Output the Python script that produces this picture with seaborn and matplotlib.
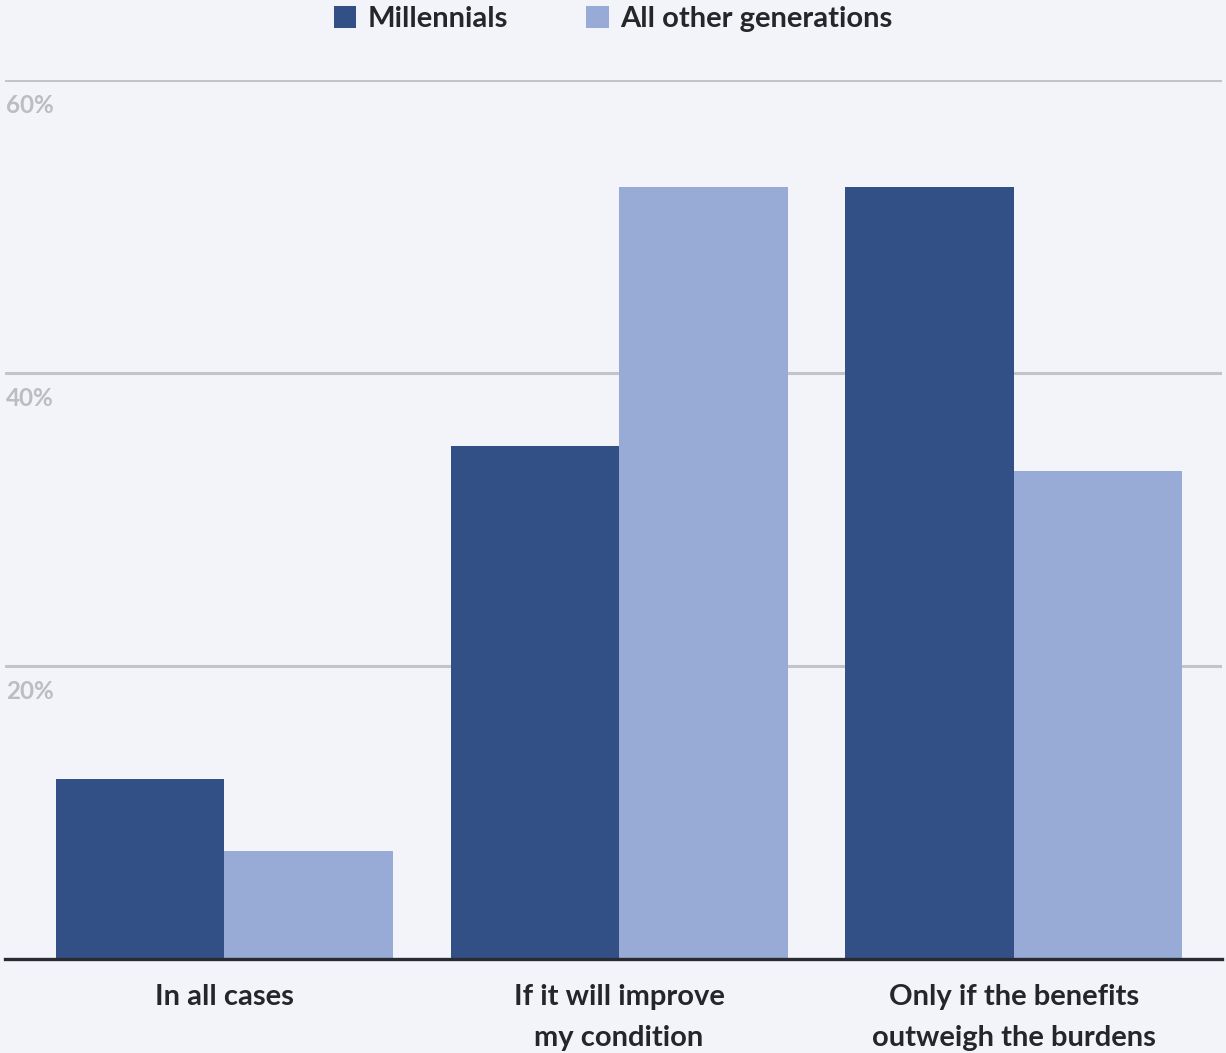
import matplotlib
matplotlib.use("Agg")
import matplotlib.pyplot as plt
import matplotlib.transforms as mtransforms
import seaborn as sns
import pandas as pd

categories = ["In all cases", "If it will improve\nmy condition", "Only if the benefits\noutweigh the burdens"]
millennials = [12.3, 35.0, 52.7]
all_others = [7.4, 52.7, 33.3]
series_names = ["Millennials", "All other generations"]
y_ticks = [20, 40, 60]
y_tick_labels = ["20%", "40%", "60%"]

BG = "#f3f4f9"
DARK = "#335086"
LIGHT = "#97abd6"
GRID = "#c3c4ca"
TEXT = "#25252b"

df = pd.DataFrame({
    "category": categories * 2,
    "share": millennials + all_others,
    "group": [series_names[0]] * len(categories) + [series_names[1]] * len(categories),
})

sns.set_theme(style="white")
plt.rcParams["font.family"] = ["Lato", "DejaVu Sans"]
plt.rcParams["font.weight"] = "bold"

fig = plt.figure(figsize=(12.26, 10.53), dpi=100, facecolor=BG)
W, H = 1226, 1053
ax = fig.add_axes([5 / W, (H - 959) / H, (1222 - 5) / W, (959 - 80) / H])
ax.set_facecolor(BG)

sns.barplot(data=df, x="category", y="share", hue="group", order=categories,
            hue_order=series_names, palette=[DARK, LIGHT], width=0.854,
            saturation=1, linewidth=0, ax=ax, zorder=3)

ax.set_ylim(0, 60)
ax.set_xlim(-0.556, 2.528)
ax.set_xlabel("")
ax.set_ylabel("")

# horizontal gridlines with labels tucked underneath on the left
ax.set_yticks(y_ticks)
ax.set_yticklabels([])
ax.tick_params(axis="y", length=0)
ax.yaxis.grid(True, color=GRID, linewidth=2.2, zorder=0)
ax.set_axisbelow(True)
for v, lab in zip(y_ticks, y_tick_labels):
    tr = mtransforms.blended_transform_factory(ax.transAxes, ax.transData)
    ax.text(0.001, v, lab, transform=tr + mtransforms.ScaledTranslation(0, -10 / 72, fig.dpi_scale_trans),
            ha="left", va="top", fontsize=17.5, color="#bcbdc3", fontweight="bold")

for s in ["top", "right", "left"]:
    ax.spines[s].set_visible(False)
ax.spines["bottom"].set_color("#2a2a33")
ax.spines["bottom"].set_linewidth(2.4)
ax.spines["bottom"].set_zorder(5)

ax.tick_params(axis="x", length=0, pad=18, labelsize=21, labelcolor=TEXT)
for t in ax.get_xticklabels():
    t.set_fontweight("bold")
    t.set_linespacing(1.7)
    t.set_verticalalignment("top")

handles, labels = ax.get_legend_handles_labels()
ax.legend(handles, labels, loc="center", bbox_to_anchor=(0.5, 1 - 19 / H),
          bbox_transform=fig.transFigure, ncol=2, frameon=False,
          prop={"family": "Lato", "weight": "bold", "size": 21},
          handlelength=0.76, handleheight=0.76, handletextpad=0.38,
          columnspacing=2.7, labelcolor=TEXT, borderaxespad=0, borderpad=0)

fig.savefig("out.png", dpi=100, facecolor=BG)
